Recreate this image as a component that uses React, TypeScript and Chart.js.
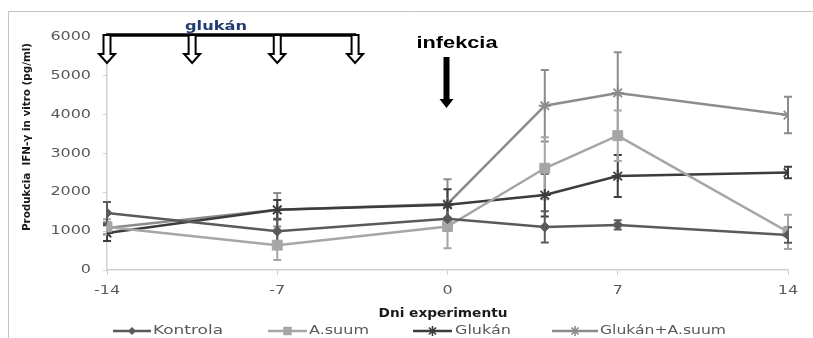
import React, { useEffect, useRef } from 'react';
import { Chart, registerables } from 'chart.js';

Chart.register(...registerables);

// ---- data ----
const days = [-14, -7, 0, 4, 7, 14];
const xTickValues = [-14, -7, 0, 7, 14];
const yTickValues = [0, 1000, 2000, 3000, 4000, 5000, 6000];
const seriesNames = ['Kontrola', 'A.suum', 'Glukán', 'Glukán+A.suum'];

const kontrola = [1470, 1000, 1320, 1110, 1160, 900];
const kontrolaErr = [280, 320, 300, 400, 120, 200];
const asuum = [1110, 640, 1120, 2620, 3460, 980];
const asuumErr = [200, 380, 560, 800, 650, 440];
const glukan = [950, 1550, 1680, 1930, 2420, 2510];
const glukanErr = [200, 250, 400, 550, 540, 150];
const glukanAsuum = [1080, 1550, 1700, 4230, 4560, 3990];
const glukanAsuumErr = [150, 430, 640, 920, 1050, 470];

const glukanDoseDays = [-14, -10.5, -7, -3.8];
const infectionDay = 0;

const yTitle = 'Produkcia  IFN-γ in vitro (pg/ml)';
const xTitle = 'Dni experimentu';

// ---- styles ----
const colors = ['#5a5a5a', '#a6a6a6', '#3c3c3c', '#8c8c8c'];
const markerStyles = ['rectRot', 'rect', 'star', 'star'];
const markerRadius = [5, 7, 6, 6];
const values = [kontrola, asuum, glukan, glukanAsuum];
const errors = [kontrolaErr, asuumErr, glukanErr, glukanAsuumErr];

function fitText(
  ctx: CanvasRenderingContext2D,
  text: string,
  x: number,
  y: number,
  font: string,
  color: string,
  width: number,
  align: CanvasTextAlign,
  baseline: CanvasTextBaseline,
  rotate = false
) {
  ctx.save();
  ctx.font = font;
  const m = ctx.measureText(text).width;
  const sx = width / m;
  ctx.translate(x, y);
  if (rotate) ctx.rotate(-Math.PI / 2);
  ctx.scale(sx, 1);
  ctx.textAlign = align;
  ctx.textBaseline = baseline;
  ctx.fillStyle = color;
  ctx.fillText(text, 0, 0);
  ctx.restore();
}

function stretchText(
  ctx: CanvasRenderingContext2D,
  text: string,
  x: number,
  y: number,
  font: string,
  color: string,
  sx: number,
  align: CanvasTextAlign,
  baseline: CanvasTextBaseline
) {
  ctx.save();
  ctx.font = font;
  ctx.translate(x, y);
  ctx.scale(sx, 1);
  ctx.textAlign = align;
  ctx.textBaseline = baseline;
  ctx.fillStyle = color;
  ctx.fillText(text, 0, 0);
  ctx.restore();
}

function drawMarker(ctx: CanvasRenderingContext2D, style: string, x: number, y: number, r: number, color: string) {
  ctx.save();
  ctx.fillStyle = color;
  ctx.strokeStyle = color;
  ctx.lineWidth = 1.6;
  ctx.beginPath();
  if (style === 'rectRot') {
    ctx.moveTo(x, y - r);
    ctx.lineTo(x + r, y);
    ctx.lineTo(x, y + r);
    ctx.lineTo(x - r, y);
    ctx.closePath();
    ctx.fill();
  } else if (style === 'rect') {
    const s = r * Math.SQRT1_2;
    ctx.rect(x - s, y - s, 2 * s, 2 * s);
    ctx.fill();
  } else {
    ctx.moveTo(x, y - r);
    ctx.lineTo(x, y + r);
    ctx.moveTo(x - r, y);
    ctx.lineTo(x + r, y);
    const d = r * Math.SQRT1_2;
    ctx.moveTo(x - d, y - d);
    ctx.lineTo(x + d, y + d);
    ctx.moveTo(x - d, y + d);
    ctx.lineTo(x + d, y - d);
    ctx.stroke();
  }
  ctx.restore();
}

const errorBarPlugin = {
  id: 'errorBars',
  beforeDatasetsDraw(chart: any) {
    const ctx: CanvasRenderingContext2D = chart.ctx;
    const xs = chart.scales.x;
    const ys = chart.scales.y;
    ctx.save();
    for (let i = values.length - 1; i >= 0; i--) {
      ctx.strokeStyle = colors[i];
      ctx.lineWidth = 2;
      values[i].forEach((v, j) => {
        const x = xs.getPixelForValue(days[j]);
        const yt = ys.getPixelForValue(v + errors[i][j]);
        const yb = ys.getPixelForValue(v - errors[i][j]);
        ctx.beginPath();
        ctx.moveTo(x, yt);
        ctx.lineTo(x, yb);
        ctx.moveTo(x - 4, yt);
        ctx.lineTo(x + 4, yt);
        ctx.moveTo(x - 4, yb);
        ctx.lineTo(x + 4, yb);
        ctx.stroke();
      });
    }
    ctx.restore();
  },
};

const decorPlugin = {
  id: 'decor',
  beforeDraw(chart: any) {
    const ctx: CanvasRenderingContext2D = chart.ctx;
    ctx.save();
    ctx.fillStyle = '#ffffff';
    ctx.fillRect(0, 0, chart.width, chart.height);
    ctx.strokeStyle = '#c4c4c4';
    ctx.lineWidth = 1;
    ctx.beginPath();
    ctx.moveTo(8.5, chart.height);
    ctx.lineTo(8.5, 11.5);
    ctx.lineTo(chart.width, 11.5);
    ctx.stroke();
    ctx.restore();
  },
  afterDraw(chart: any) {
    const ctx: CanvasRenderingContext2D = chart.ctx;
    const xs = chart.scales.x;
    const ys = chart.scales.y;
    const tickFont = '12px "DejaVu Sans"';
    const tickColor = '#595959';
    // tick labels
    yTickValues.forEach((v) => {
      stretchText(ctx, String(v), 91, ys.getPixelForValue(v), tickFont, tickColor, 1.33, 'right', 'middle');
    });
    xTickValues.forEach((v) => {
      stretchText(ctx, String(v), xs.getPixelForValue(v), 291, tickFont, tickColor, 1.33, 'center', 'middle');
    });
    // axis titles
    fitText(ctx, yTitle, 27, 137, 'bold 11px "DejaVu Sans"', '#1a1a1a', 188, 'center', 'middle', true);
    fitText(ctx, xTitle, 443, 314, 'bold 11.5px "DejaVu Sans"', '#1a1a1a', 129, 'center', 'middle');

    // legend
    const legend = [
      { x0: 113, x1: 151, tx: 153, tw: 70 },
      { x0: 268, x1: 307, tx: 309, tw: 60 },
      { x0: 413, x1: 452, tx: 455, tw: 56 },
      { x0: 552, x1: 598, tx: 600, tw: 126 },
    ];
    const ly = 331;
    legend.forEach((l, i) => {
      ctx.save();
      ctx.strokeStyle = colors[i];
      ctx.lineWidth = 2.5;
      ctx.beginPath();
      ctx.moveTo(l.x0, ly);
      ctx.lineTo(l.x1, ly);
      ctx.stroke();
      ctx.restore();
      drawMarker(ctx, markerStyles[i], (l.x0 + l.x1) / 2, ly, markerRadius[i] - 1, colors[i]);
      fitText(ctx, seriesNames[i], l.tx, ly, '12px "DejaVu Sans"', '#595959', l.tw, 'left', 'middle');
    });

    // glukán bracket with hollow arrows
    const top = ys.getPixelForValue(6000) - 2;
    const xsPx = glukanDoseDays.map((d) => xs.getPixelForValue(d));
    ctx.save();
    ctx.strokeStyle = '#000';
    ctx.fillStyle = '#000';
    ctx.lineWidth = 3.5;
    ctx.beginPath();
    ctx.moveTo(xsPx[0] - 1, top);
    ctx.lineTo(xsPx[xsPx.length - 1] + 1, top);
    ctx.stroke();
    xsPx.forEach((px) => {
      const sh = 3.5;
      const hh = 8;
      const y0 = top;
      const y1 = top + 19;
      const y2 = top + 28;
      ctx.beginPath();
      ctx.moveTo(px - sh, y0);
      ctx.lineTo(px - sh, y1);
      ctx.lineTo(px - hh, y1);
      ctx.lineTo(px, y2);
      ctx.lineTo(px + hh, y1);
      ctx.lineTo(px + sh, y1);
      ctx.lineTo(px + sh, y0);
      ctx.closePath();
      ctx.fillStyle = '#fff';
      ctx.fill();
      ctx.lineWidth = 2;
      ctx.strokeStyle = '#000';
      ctx.stroke();
    });
    ctx.restore();
    fitText(ctx, 'glukán', 216, 30, 'bold 11.5px "DejaVu Sans"', '#1f3c70', 62, 'center', 'alphabetic');

    // infection arrow
    const ix = xs.getPixelForValue(infectionDay) - 1;
    ctx.save();
    ctx.fillStyle = '#000';
    ctx.beginPath();
    ctx.moveTo(ix - 3, 57);
    ctx.lineTo(ix + 3, 57);
    ctx.lineTo(ix + 3, 99);
    ctx.lineTo(ix + 7, 99);
    ctx.lineTo(ix, 108);
    ctx.lineTo(ix - 7, 99);
    ctx.lineTo(ix - 3, 99);
    ctx.closePath();
    ctx.fill();
    ctx.restore();
    fitText(ctx, 'infekcia', 457, 48, 'bold 16px "Liberation Sans"', '#000', 81, 'center', 'alphabetic');
  },
};

export default function App() {
  const ref = useRef<HTMLCanvasElement>(null);
  useEffect(() => {
    const canvas = ref.current;
    if (!canvas) return;
    const chart = new Chart(canvas, {
      type: 'line',
      data: {
        datasets: values.map((vals, i) => ({
          label: seriesNames[i],
          data: vals.map((v, j) => ({ x: days[j], y: v })),
          borderColor: colors[i],
          backgroundColor: colors[i],
          borderWidth: 2.5,
          tension: 0,
          pointStyle: markerStyles[i] as any,
          pointRadius: markerRadius[i],
          pointBorderWidth: markerStyles[i] === 'star' ? 1.8 : 1,
          pointBorderColor: colors[i],
          pointBackgroundColor: colors[i],
        })),
      },
      options: {
        responsive: false,
        animation: false,
        layout: { padding: { left: 0, right: 25, top: 37, bottom: 0 } },
        plugins: {
          legend: { display: false },
          tooltip: { enabled: false },
          title: { display: false },
        },
        scales: {
          x: {
            type: 'linear',
            min: -14,
            max: 14,
            ticks: { display: false, stepSize: 7 },
            grid: { drawOnChartArea: false, drawTicks: true, tickLength: 5, color: '#d0d0d0' },
            border: { color: '#d0d0d0', width: 1.5 },
            afterFit: (s: any) => {
              s.height = 68;
            },
          },
          y: {
            type: 'linear',
            min: 0,
            max: 6000,
            ticks: { display: false, stepSize: 1000 },
            grid: { drawOnChartArea: false, drawTicks: true, tickLength: 4, color: '#d0d0d0' },
            border: { color: '#d0d0d0', width: 1.5 },
            afterFit: (s: any) => {
              s.width = 107;
            },
          },
        },
      },
      plugins: [decorPlugin, errorBarPlugin],
    });
    return () => chart.destroy();
  }, []);
  return (
    <div style={{ position: 'absolute', left: 0, top: 0, width: 813, height: 338 }}>
      <canvas ref={ref} width={813} height={338} style={{ display: 'block' }} />
    </div>
  );
}
